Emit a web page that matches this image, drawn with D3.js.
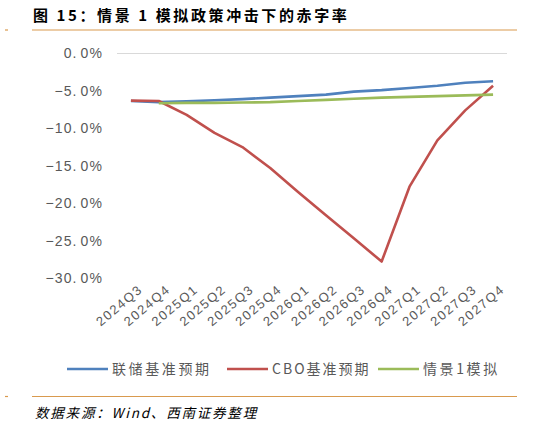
<!DOCTYPE html>
<html>
<head>
<meta charset="utf-8">
<script src="https://cdn.jsdelivr.net/npm/d3@7"></script>
<style>
body { margin:0; background:#fff; }
text { font-family: "Noto Sans CJK SC", "Liberation Sans", sans-serif; }
</style>
</head>
<body>
<svg id="chart"></svg>
<script>
var quarters = ["2024Q3","2024Q4","2025Q1","2025Q2","2025Q3","2025Q4","2026Q1","2026Q2","2026Q3","2026Q4","2027Q1","2027Q2","2027Q3","2027Q4"];
var fedBase = [-6.35,-6.5,-6.4,-6.25,-6.1,-5.9,-5.7,-5.5,-5.1,-4.9,-4.6,-4.3,-3.9,-3.7];
var cboBase = [-6.3,-6.35,-8.2,-10.6,-12.5,-15.3,-18.5,-21.6,-24.7,-27.8,-17.8,-11.6,-7.6,-4.3];
var scenario1 = [null,-6.65,-6.6,-6.6,-6.55,-6.5,-6.35,-6.2,-6.05,-5.9,-5.8,-5.7,-5.6,-5.5];
var yTicks = [0,-5,-10,-15,-20,-25,-30];
var seriesNames = ["联储基准预期","CBO基准预期","情景1模拟"];

var screen = { width:537, height:427 };
var svg = d3.select("#chart")
            .attr("width",screen.width)
            .attr("height",screen.height);

var margins = { top:53.5, left:117, right:30, bottom:149 };
var width = screen.width - margins.left - margins.right;
var height = screen.height - margins.top - margins.bottom;

var orange = "#D99A4E";
// title
svg.append("text")
   .attr("x",33).attr("y",21)
   .attr("font-size",15).attr("font-weight","bold")
   .attr("letter-spacing",2.6)
   .attr("fill","#000")
   .text("图 15：情景 1 模拟政策冲击下的赤字率");
svg.append("line").attr("x1",32).attr("x2",517).attr("y1",30).attr("y2",30)
   .attr("stroke",orange).attr("stroke-width",1.2);
svg.append("line").attr("x1",5).attr("x2",8).attr("y1",30).attr("y2",30)
   .attr("stroke",orange).attr("stroke-width",1.2);

var xScale = d3.scaleBand()
               .domain(quarters)
               .range([0,width]);
var yScale = d3.scaleLinear()
               .domain([-30,0])
               .range([height,0]);

var plotLand = svg.append("g")
                  .attr("transform","translate("+margins.left+","+margins.top+")");

// zero line
plotLand.append("line")
        .attr("x1",0).attr("x2",width)
        .attr("y1",yScale(0)).attr("y2",yScale(0))
        .attr("stroke","#d9d9d9").attr("stroke-width",1);

var yAxis = d3.axisLeft(yScale)
              .tickValues(yTicks)
              .tickSize(0)
              .tickPadding(14);
var yG = plotLand.append("g").call(yAxis);
yG.select(".domain").remove();
yG.selectAll("text")
  .attr("font-size",14).attr("fill","#595959")
  .attr("letter-spacing",1.1)
  .style("font-family","'Liberation Sans', sans-serif")
  .text(null)
  .each(function(d){
    var t = d3.select(this);
    t.append("tspan").text((d<0?"−":"") + Math.abs(d) + ".");
    t.append("tspan").attr("dx",3).text("0%");
  });

var xAxis = d3.axisBottom(xScale).tickSize(0);
var xG = plotLand.append("g")
                 .attr("transform","translate(0,"+(height+8)+")")
                 .call(xAxis);
xG.select(".domain").remove();
xG.selectAll("text")
  .attr("font-size",13).attr("fill","#595959")
  .attr("letter-spacing",1.6)
  .style("font-family","'Liberation Sans', sans-serif")
  .attr("text-anchor","end")
  .attr("y",0)
  .attr("dy","0.9em").attr("dx","0.5em")
  .attr("transform","rotate(-40)");

var colors = ["#4F81BD","#C0504D","#9BBB59"];
var allSeries = [fedBase,cboBase,scenario1];

var line = d3.line()
             .defined(function(d){ return d!=null; })
             .x(function(d,i){ return xScale(quarters[i]) + xScale.bandwidth()/2; })
             .y(function(d){ return yScale(d); });

plotLand.selectAll("path.series")
        .data(allSeries)
        .enter()
        .append("path")
        .classed("series",true)
        .attr("d",line)
        .attr("fill","none")
        .attr("stroke",function(d,i){ return colors[i]; })
        .attr("stroke-width",2.6)
        .attr("stroke-linejoin","round");

// legend
var legendX = [67,227,378];
var legend = svg.append("g").attr("transform","translate(0,369)");
var items = legend.selectAll("g")
                  .data(seriesNames)
                  .enter()
                  .append("g")
                  .attr("transform",function(d,i){ return "translate("+legendX[i]+",0)"; });
items.append("line")
     .attr("x1",0).attr("x2",41).attr("y1",0).attr("y2",0)
     .attr("stroke",function(d,i){ return colors[i]; })
     .attr("stroke-width",2.6);
items.append("text")
     .attr("x",45).attr("y",5)
     .attr("font-size",14).attr("fill","#595959")
     .attr("letter-spacing",function(d,i){ return i==1 ? 2.0 : 2.6; })
     .text(function(d){ return d; });

svg.append("line").attr("x1",32).attr("x2",517).attr("y1",396.5).attr("y2",396.5)
   .attr("stroke",orange).attr("stroke-width",1.2);
svg.append("line").attr("x1",5).attr("x2",8).attr("y1",396.5).attr("y2",396.5)
   .attr("stroke",orange).attr("stroke-width",1.2);

svg.append("text")
   .attr("x",35).attr("y",418)
   .attr("font-size",13.5).attr("font-style","italic").attr("fill","#000")
   .attr("letter-spacing",1.8)
   .text("数据来源：Wind、西南证券整理");
</script>
</body>
</html>
